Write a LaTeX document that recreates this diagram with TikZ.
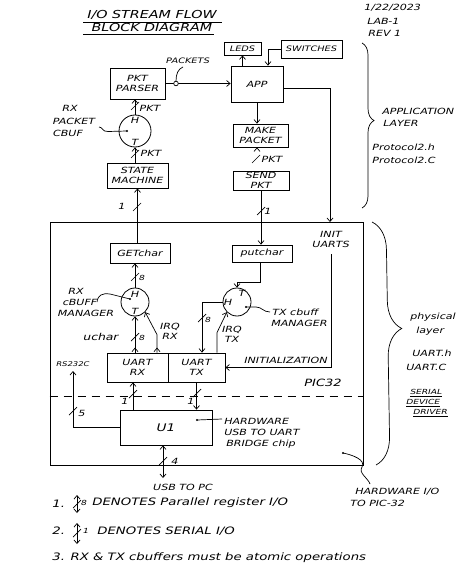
\documentclass[tikz,border=0pt]{standalone}
\usepackage{fontspec}
\setmainfont{DejaVu Sans}[FakeStretch=1.3]
\usetikzlibrary{arrows.meta,decorations.pathreplacing,decorations.markings,calc}
\begin{document}
\begin{tikzpicture}[x=1pt,y=-1pt,
  line width=0.7pt,
  every node/.style={font=\itshape\fontsize{8.5}{10}\selectfont, inner sep=0pt},
  box/.style={draw, line width=0.8pt, align=center},
  buf/.style={draw, circle, line width=0.8pt, minimum size=#1},
  arr/.style={-{Straight Barb[length=3.5pt,width=6pt]}},
  dblarr/.style={{Straight Barb[length=3.5pt,width=6pt]}-{Straight Barb[length=3.5pt,width=6pt]}},
  startarr/.style={postaction={decorate}, decoration={markings, mark=at position 5pt with {\arrow{Straight Barb[length=3.5pt,width=6pt]}}}},
  lbl/.style={align=center},
  lft/.style={align=left, anchor=west},
  tiny/.style={font=\itshape\fontsize{7}{8}\selectfont},
  big/.style={font=\itshape\fontsize{11}{13}\selectfont},
  note/.style={font=\itshape\fontsize{10.2}{12}\selectfont, anchor=west},
  buscut/.pic={\draw (-4,4) -- (4,-4);},
]
\useasboundingbox (0,0) rectangle (475,577);
\fill[white] (0,0) rectangle (475,577);

% ---------- title and date ----------
\node[big] (title1) at (152,15) {I/O STREAM FLOW};
\node[big] (title2) at (152,27) {BLOCK DIAGRAM};
\draw (83,22) -- (222,22);
\draw (83,34) -- (214,34);
\node[lft] (date) at (364,8) {1/22/2023};
\node[lft] (lab) at (367,21) {LAB-1};
\node[lft] (rev) at (368,33) {REV 1};

% ---------- application layer ----------
\node[box, minimum width=55pt, minimum height=31pt] (parser) at (137.5,83.5) {PKT\\PARSER};
\node[box, minimum width=52pt, minimum height=36pt] (app) at (257,84) {APP};
\node[box, minimum width=37pt, minimum height=13pt] (leds) at (242.5,48.5) {\fontsize{7.5}{8}\selectfont LEDS};
\node[box, minimum width=61pt, minimum height=18pt] (switches) at (311.5,49) {\fontsize{7.5}{8}\selectfont SWITCHES};
\node[box, minimum width=55pt, minimum height=23pt] (make) at (260.5,135.5) {MAKE\\PACKET};
\node[box, minimum width=56pt, minimum height=19pt] (send) at (261,180.5) {SEND\\PKT};
\node[buf=32pt] (rxpcb) at (135,131) {};
\node[box, minimum width=61pt, minimum height=25pt] (state) at (137.5,175.5) {STATE\\MACHINE};

\node (rxpH) at (135,120) {H};
\node (rxpT) at (135,142) {T};
\node[lbl] (rxplbl1) at (70,108) {RX};
\node[lbl] (rxplbl2) at (74,121) {PACKET};
\node[lbl] (rxplbl3) at (68,133) {CBUF};
\coordinate (rxpdot) at (127,131);
\fill (rxpdot) circle (1.2);
\draw (99,127) .. controls (103,127) and (102,132) .. (108,131.5) -- (rxpdot);

% parser -> app with tap
\draw[arr] (parser.east) -- (app.west |- parser.east);
\coordinate (tap) at (176,83.5);
\draw[fill=white] (tap) circle (2.3);
\draw (176,81.2) .. controls (176,74) and (178,69) .. (183,67);
\node (packets) at (188,61) {\fontsize{7.5}{8}\selectfont PACKETS};

\draw[arr] (leds.south |- app.north) -- (leds.south);
\draw[arr] (switches.west) -| ([xshift=11pt]app.north);
\draw[arr] (app.south) -- (app.south |- make.north);
\draw[arr] (make.south -| app.south) -- (make.south -| app.south |- send.north);
\pic at (256,159) {buscut};
\node (pkt3) at (272,159) {PKT};

\draw[arr] (rxpcb.north) -- (rxpcb.north |- parser.south);
\pic at (135,106) {buscut};
\node (pkt1) at (150,108) {PKT};
\draw[arr] (rxpcb.south |- state.north) -- (rxpcb.south);
\pic at (135,154) {buscut};
\node (pkt2) at (151,153) {PKT};

% brace application
\draw[decorate, decoration={brace, amplitude=12pt, aspect=0.47}] (362,43) -- (362,208);
\node[lft] (applbl1) at (382,111) {APPLICATION};
\node[lft] (applbl2) at (383,123) {LAYER};
\node[lft] (proth) at (372,147) {Protocol2.h};
\node[lft] (protc) at (372,160) {Protocol2.C};

% ---------- PIC32 ----------
\node[draw, line width=0.8pt, minimum width=313pt, minimum height=243pt] (pic) at (206.5,343.5) {};
\draw[dashed, dash pattern=on 8pt off 6pt] (pic.west |- 0,396) -- (pic.east |- 0,396);
\node (pic32) at (323,383) {\fontsize{10}{12}\selectfont PIC32};

\coordinate (initin) at (330,222);
\draw[arr] ([yshift=-4pt]app.east) -| (initin);
\node[lbl] (initlbl) at (331,239) {INIT\\UARTS};

\node[box, minimum width=60pt, minimum height=20pt] (getchar) at (140,253) {GETchar};
\node[box, minimum width=60pt, minimum height=17pt] (putchar) at (262,253.5) {putchar};
\node[buf=28pt] (rxc) at (135,302) {};
\node[buf=28pt] (txc) at (237,302) {};
\node[box, minimum width=61pt, minimum height=29pt] (uartrx) at (137.5,367.5) {UART\\RX};
\node[box, minimum width=57pt, minimum height=29pt] (uarttx) at (196.5,367.5) {UART\\TX};
\node[box, minimum width=92pt, minimum height=35pt] (u1) at (166,427.5) {\fontsize{10.5}{12}\selectfont U1};

\draw[arr] (state.south |- getchar.north) -- (state.south);
\pic at (137,207) {buscut};
\node (one1) at (122,206) {1};

\draw[arr] (send.south) -- (send.south |- putchar.north);
\pic at (261,211) {buscut};
\node (one2) at (268,211) {1};

% RX circle
\node (rxH) at (135,294) {H};
\node (rxT) at (135,311) {T};
\coordinate (rxdot) at (130,299);
\fill (rxdot) circle (1.2);
\draw (97,302) .. controls (98,295) and (102,293) .. (110,294) -- (rxdot);
\node[lbl] (rxm1) at (76,291) {RX};
\node[lbl] (rxm2) at (80,302) {cBUFF};
\node[lbl] (rxm3) at (86,313) {MANAGER};

\draw[arr] (rxc.north) -- (rxc.north |- getchar.south);
\pic at (135,277) {buscut};
\node[tiny] (e1) at (142,278) {8};

\draw[arr, startarr] (rxc.south |- uartrx.north) -- (rxc.south);
\pic at (135,337) {buscut};
\node[tiny] (e2) at (142,338) {8};
\node (uchar) at (101,337) {\fontsize{9.5}{11}\selectfont uchar};

\draw[arr, startarr] ([xshift=19.5pt]uartrx.north) -- ++(0,-18) -- (rxc.south east);
\node[lbl] (irqrx) at (170,331) {IRQ\\RX};

% TX circle
\node (txT) at (242,293) {T};
\node (txH) at (228,302) {H};
\coordinate (txdot) at (246,307);
\fill (txdot) circle (1.2);
\draw (txdot) -- (256,307) .. controls (262,307) and (263,312) .. (270,312);
\node[lft] (txm1) at (272,312) {TX cbuff};
\node[lft] (txm2) at (271,323) {MANAGER};

\draw[arr] ([xshift=-2pt]putchar.south) -- ++(0,20) -| (txc.north);
\draw[arr] (txc.west) -| ([xshift=5.5pt]uarttx.north);
\pic at (202,318) {buscut};
\node[tiny] (e3) at (208,320) {8};
\draw[arr] ([xshift=20.5pt]uarttx.north) -- ++(0,-20) -- (txc.south west);
\node[lbl] (irqtx) at (232,334) {IRQ\\TX};

\coordinate (initsrc) at (331,254);
\draw[arr] (initsrc) |- (uarttx.east);
\node (initz) at (286,360) {INITIALIZATION};

% serial lines
\draw[arr] ([xshift=-33pt]u1.north) -- ([xshift=-33pt]u1.north |- uartrx.south);
\pic at (133,394) {buscut};
\node (one3) at (125,401) {1};
\draw[arr] (uarttx.south) -- (uarttx.south |- u1.north);
\pic at (197,393) {buscut};
\node (one4) at (191,401) {1};

\coordinate (rs) at (73,371);
\draw[arr] (u1.west) -| (rs);
\node (rslbl) at (73,364) {\fontsize{6.5}{8}\selectfont RS232C};
\pic at (73,411) {buscut};
\node (five) at (82,413) {5};

\coordinate (usbend) at (163,478);
\draw[dblarr] ([xshift=-3pt]u1.south) -- (usbend);
\pic at (163,461) {buscut};
\node (four) at (175,461) {4};
\node (usbpc) at (183,487) {USB TO PC};

\coordinate (hwudot) at (197,420);
\fill (hwudot) circle (1.2);
\draw (hwudot) -- (222,419);
\node[lft] (hw1) at (224,421) {HARDWARE};
\node[lft] (hw2) at (224,432) {USB TO UART};
\node[lft] (hw3) at (226,444) {BRIDGE chip};

% brace physical
\draw[decorate, decoration={brace, amplitude=28pt, aspect=0.44}] (372,222) -- (376,465);
\node[lft] (phy1) at (410,317) {physical};
\node[lft] (phy2) at (416,331) {layer};
\node[lft] (phy3) at (412,353) {UART.h};
\node[lft] (phy4) at (406,367) {UART.C};
\node[tiny, lft] (ser1) at (410,393) {\underline{SERIAL}};
\node[tiny, lft] (ser2) at (406,403) {\underline{DEVICE}};
\node[tiny, lft] (ser3) at (413,413) {\underline{DRIVER}};

% hardware I/O leader
\coordinate (hwdot) at (343,453);
\fill (hwdot) circle (1.2);
\draw (hwdot) .. controls (353,455) and (366,460) .. (362,467) .. controls (358,473) and (368,478) .. (370,484);
\node[lft] (hwio1) at (355,492) {HARDWARE I/O};
\node[lft] (hwio2) at (350,503) {TO PIC-32};

% ---------- notes ----------
\node[note] (n1) at (52,504) {1.};
\coordinate (a1t) at (77,495); \coordinate (a1b) at (77,513);
\draw[dblarr] (a1t) -- (a1b);
\pic at (77,504) {buscut};
\node[tiny] (n1e) at (84,503) {8};
\node[note] (n1t) at (92,503) {DENOTES Parallel register I/O};

\node[note] (n2) at (52,531) {2.};
\coordinate (a2t) at (77,523); \coordinate (a2b) at (77,544);
\draw[dblarr] (a2t) -- (a2b);
\pic at (77,533) {buscut};
\node[tiny] (n2e) at (86,531) {1};
\node[note] (n2t) at (97,531) {DENOTES SERIAL I/O};

\node[note] (n3) at (52,558) {3. RX \& TX cbuffers must be atomic operations};
\end{tikzpicture}
\end{document}
